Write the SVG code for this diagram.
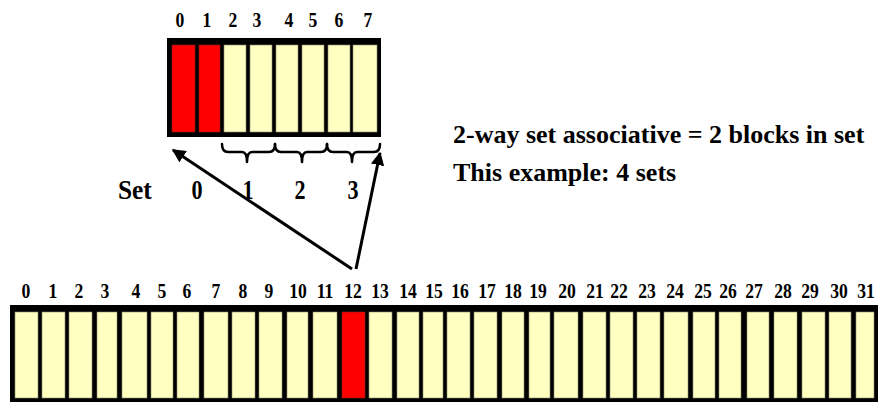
<svg xmlns="http://www.w3.org/2000/svg" width="878" height="402" viewBox="0 0 878 402">
<defs>
<style>
.y{fill:#FFFFC2;stroke:#8a8a70;stroke-width:0.6}
.r{fill:#FF0000;stroke:#8a2020;stroke-width:0.6}
.br{fill:none;stroke:#000;stroke-width:2.5;stroke-linejoin:round;stroke-linecap:round}
.ar{stroke:#000;stroke-width:3;fill:none}
</style>
<marker id="ah" viewBox="0 0 10 10" refX="9" refY="5" markerWidth="4.5" markerHeight="4.5" orient="auto" markerUnits="strokeWidth">
<path d="M0,0 L10,5 L0,10 Z" fill="#000"/>
</marker>
</defs>
<rect width="878" height="402" fill="#fff"/>

<g id="cache">
<rect x="167" y="38" width="214" height="99" fill="#000"/>
<rect class="r" x="172" y="45" width="23" height="87"/>
<rect class="r" x="199" y="45" width="21" height="87"/>
<rect class="y" x="224" y="45" width="22" height="87"/>
<rect class="y" x="250" y="45" width="22" height="87"/>
<rect class="y" x="276" y="45" width="22" height="87"/>
<rect class="y" x="302" y="45" width="22" height="87"/>
<rect class="y" x="328" y="45" width="22" height="87"/>
<rect class="y" x="353" y="45" width="24" height="87"/>
<g font-family="Liberation Serif, Times New Roman, serif" font-weight="bold" font-size="20" text-anchor="middle">
<text transform="translate(180,27) scale(0.88,1)">0</text>
<text transform="translate(207,27) scale(0.88,1)">1</text>
<text transform="translate(233,27) scale(0.88,1)">2</text>
<text transform="translate(257,27) scale(0.88,1)">3</text>
<text transform="translate(289,27) scale(0.88,1)">4</text>
<text transform="translate(313,27) scale(0.88,1)">5</text>
<text transform="translate(339,27) scale(0.88,1)">6</text>
<text transform="translate(368,27) scale(0.88,1)">7</text>
</g>
</g>

<g id="braces">
<path class="br" d="M222,144 Q222,152 228,152 L242,152 Q247,152 247,162 Q247,152 252,152 L269,152 Q275,152 275,144"/>
<path class="br" d="M275,144 Q275,152 281,152 L297,152 Q302,152 302,162 Q302,152 307,152 L321,152 Q327,152 327,144"/>
<path class="br" d="M327,144 Q327,152 333,152 L347,152 Q352,152 352,162 Q352,152 357,152 L374,152 Q380,152 380,144"/>
</g>

<g id="set-labels" font-family="Liberation Serif, Times New Roman, serif" font-weight="bold" font-size="27">
<text transform="translate(118,199) scale(0.94,1)">Set</text>
<text text-anchor="middle" transform="translate(197,199) scale(0.82,1)">0</text>
<text text-anchor="middle" transform="translate(248,199) scale(0.82,1)">1</text>
<text text-anchor="middle" transform="translate(300,199) scale(0.82,1)">2</text>
<text text-anchor="middle" transform="translate(353,199) scale(0.82,1)">3</text>
</g>

<g id="description" font-family="Liberation Serif, Times New Roman, serif" font-weight="bold" font-size="26">
<text x="453" y="143">2-way set associative = 2 blocks in set</text>
<text x="453" y="181">This example: 4 sets</text>
</g>

<g id="connectors">
<line class="ar" x1="352" y1="269" x2="173" y2="150" marker-end="url(#ah)"/>
<line class="ar" x1="356" y1="269" x2="380" y2="153" marker-end="url(#ah)"/>
</g>

<g id="memory">
<rect x="10" y="305" width="868" height="100" fill="#000"/>
<rect class="y" x="15" y="312" width="23" height="86"/>
<rect class="y" x="42" y="312" width="23" height="86"/>
<rect class="y" x="69" y="312" width="23" height="86"/>
<rect class="y" x="97" y="312" width="20" height="86"/>
<rect class="y" x="122" y="312" width="25" height="86"/>
<rect class="y" x="151" y="312" width="22" height="86"/>
<rect class="y" x="177" y="312" width="22" height="86"/>
<rect class="y" x="204" y="312" width="24" height="86"/>
<rect class="y" x="232" y="312" width="23" height="86"/>
<rect class="y" x="259" y="312" width="23" height="86"/>
<rect class="y" x="287" y="312" width="21" height="86"/>
<rect class="y" x="313" y="312" width="24" height="86"/>
<rect class="r" x="342" y="312" width="23" height="86"/>
<rect class="y" x="369" y="312" width="23" height="86"/>
<rect class="y" x="397" y="312" width="22" height="86"/>
<rect class="y" x="423" y="312" width="20" height="86"/>
<rect class="y" x="447" y="312" width="23" height="86"/>
<rect class="y" x="474" y="312" width="23" height="86"/>
<rect class="y" x="502" y="312" width="22" height="86"/>
<rect class="y" x="529" y="312" width="21" height="86"/>
<rect class="y" x="554" y="312" width="24" height="86"/>
<rect class="y" x="583" y="312" width="23" height="86"/>
<rect class="y" x="610" y="312" width="23" height="86"/>
<rect class="y" x="637" y="312" width="23" height="86"/>
<rect class="y" x="664" y="312" width="24" height="86"/>
<rect class="y" x="693" y="312" width="22" height="86"/>
<rect class="y" x="719" y="312" width="22" height="86"/>
<rect class="y" x="747" y="312" width="22" height="86"/>
<rect class="y" x="774" y="312" width="23" height="86"/>
<rect class="y" x="802" y="312" width="23" height="86"/>
<rect class="y" x="829" y="312" width="22" height="86"/>
<rect class="y" x="856" y="312" width="18" height="86"/>
<g font-family="Liberation Serif, Times New Roman, serif" font-weight="bold" font-size="22" text-anchor="middle">
<text transform="translate(26,298) scale(0.8,1)">0</text>
<text transform="translate(53,298) scale(0.8,1)">1</text>
<text transform="translate(79,298) scale(0.8,1)">2</text>
<text transform="translate(105,298) scale(0.8,1)">3</text>
<text transform="translate(136,298) scale(0.8,1)">4</text>
<text transform="translate(162,298) scale(0.8,1)">5</text>
<text transform="translate(187,298) scale(0.8,1)">6</text>
<text transform="translate(216,298) scale(0.8,1)">7</text>
<text transform="translate(243,298) scale(0.8,1)">8</text>
<text transform="translate(269,298) scale(0.8,1)">9</text>
<text transform="translate(298,298) scale(0.8,1)">10</text>
<text transform="translate(325,298) scale(0.8,1)">11</text>
<text transform="translate(353,298) scale(0.8,1)">12</text>
<text transform="translate(380,298) scale(0.8,1)">13</text>
<text transform="translate(408,298) scale(0.8,1)">14</text>
<text transform="translate(434,298) scale(0.8,1)">15</text>
<text transform="translate(460,298) scale(0.8,1)">16</text>
<text transform="translate(487,298) scale(0.8,1)">17</text>
<text transform="translate(513,298) scale(0.8,1)">18</text>
<text transform="translate(538,298) scale(0.8,1)">19</text>
<text transform="translate(567,298) scale(0.8,1)">20</text>
<text transform="translate(595,298) scale(0.8,1)">21</text>
<text transform="translate(619,298) scale(0.8,1)">22</text>
<text transform="translate(647,298) scale(0.8,1)">23</text>
<text transform="translate(675,298) scale(0.8,1)">24</text>
<text transform="translate(703,298) scale(0.8,1)">25</text>
<text transform="translate(728,298) scale(0.8,1)">26</text>
<text transform="translate(754,298) scale(0.8,1)">27</text>
<text transform="translate(783,298) scale(0.8,1)">28</text>
<text transform="translate(810,298) scale(0.8,1)">29</text>
<text transform="translate(839,298) scale(0.8,1)">30</text>
<text transform="translate(866,298) scale(0.8,1)">31</text>
</g>
</g>
</svg>
